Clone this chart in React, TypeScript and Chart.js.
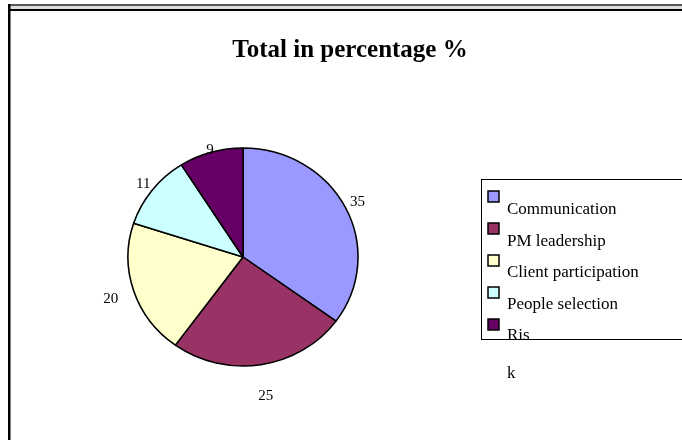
import { useEffect, useRef } from 'react';
import { Chart, registerables, Plugin } from 'chart.js';

Chart.register(...registerables);

const chartTitle = 'Total in percentage %';
const categories = ['Communication', 'PM leadership', 'Client participation', 'People selection', 'Risk'];
const percentages = [35, 25, 20, 11, 9];
const sliceColors = ['#9999FF', '#993366', '#FFFFCC', '#CCFFFF', '#660066'];

// the old spreadsheet legend wrapped "Risk" onto two lines
const legendLines = categories.map((c) => (c === 'Risk' ? ['Ris', 'k'] : [c]));

const SERIF = '"Liberation Serif", "Times New Roman", serif';
const STRETCH_X = 115 / 109; // the pie is a little wider than tall

const pageDecor: Plugin<'pie'> = {
  id: 'pageDecor',
  beforeDatasetsDraw(chart) {
    const { ctx, chartArea } = chart;
    const cx = (chartArea.left + chartArea.right) / 2;
    const cy = (chartArea.top + chartArea.bottom) / 2;
    ctx.save();
    ctx.translate(cx, cy);
    ctx.scale(STRETCH_X, 1);
    ctx.translate(-cx, -cy);
  },
  afterDatasetsDraw(chart) {
    const { ctx } = chart;
    ctx.restore();

    // value labels outside each slice
    const arcs = chart.getDatasetMeta(0).data as any[];
    ctx.save();
    ctx.font = `15px ${SERIF}`;
    ctx.fillStyle = '#000';
    ctx.textAlign = 'center';
    ctx.textBaseline = 'alphabetic';
    arcs.forEach((arc, i) => {
      const { x, y, startAngle, endAngle, outerRadius } = arc.getProps(
        ['x', 'y', 'startAngle', 'endAngle', 'outerRadius'],
        true
      );
      const mid = (startAngle + endAngle) / 2;
      const ux = Math.cos(mid);
      const uy = Math.sin(mid);
      const text = String(percentages[i]);
      const w = ctx.measureText(text).width;
      const h = 10;
      const gap = 11 + 14 * uy;
      const proj = Math.abs(ux) * (w / 2) + Math.abs(uy) * (h / 2);
      const lx = x + ux * (outerRadius * STRETCH_X + gap + proj);
      const ly = y + uy * (outerRadius + gap + proj);
      ctx.fillText(text, lx, ly + h / 2);
    });
    ctx.restore();
  },
  afterDraw(chart) {
    const { ctx } = chart;
    ctx.save();

    // frame
    ctx.fillStyle = '#555';
    ctx.fillRect(8, 4, 674, 2);
    ctx.fillStyle = '#ddd';
    ctx.fillRect(10, 6, 672, 3);
    ctx.fillStyle = '#000';
    ctx.fillRect(8, 9, 674, 2);
    ctx.fillRect(8, 4, 2.5, 436);

    // title
    ctx.font = `bold 25px ${SERIF}`;
    ctx.textAlign = 'center';
    ctx.textBaseline = 'alphabetic';
    ctx.fillText(chartTitle, 350, 57);

    // legend
    ctx.font = `17px ${SERIF}`;
    ctx.textAlign = 'left';
    categories.forEach((_, i) => {
      const top = 191 + i * 32;
      ctx.fillStyle = sliceColors[i];
      ctx.fillRect(488, top, 11, 11);
      ctx.strokeStyle = '#000';
      ctx.lineWidth = 1.5;
      ctx.strokeRect(488, top, 11, 11);
      ctx.fillStyle = '#000';
      legendLines[i].forEach((line, j) => {
        ctx.fillText(line, 507, 214 + i * 31.6 + j * 38);
      });
    });
    ctx.strokeStyle = '#000';
    ctx.lineWidth = 1;
    ctx.strokeRect(481.5, 179.5, 260, 160);

    ctx.restore();
  },
};

export default function App() {
  const canvasRef = useRef<HTMLCanvasElement>(null);
  const chartRef = useRef<Chart<'pie'> | null>(null);

  useEffect(() => {
    if (!canvasRef.current) return;
    if (chartRef.current) chartRef.current.destroy();

    chartRef.current = new Chart(canvasRef.current, {
      type: 'pie',
      data: {
        labels: categories,
        datasets: [
          {
            data: percentages,
            backgroundColor: sliceColors,
            borderColor: '#000',
            borderWidth: 1.5,
            hoverOffset: 0,
            clip: false as any,
          },
        ],
      },
      options: {
        responsive: false,
        animation: false,
        radius: 109,
        layout: {
          padding: { left: 134, right: 330, top: 148, bottom: 74 },
        },
        plugins: {
          legend: { display: false },
          title: { display: false },
          tooltip: { enabled: false },
        },
      },
      plugins: [pageDecor],
    });

    return () => {
      if (chartRef.current) {
        chartRef.current.destroy();
        chartRef.current = null;
      }
    };
  }, []);

  return (
    <div style={{ position: 'fixed', left: 0, top: 0, width: 682, height: 440, background: '#fff' }}>
      <canvas ref={canvasRef} width={682} height={440} style={{ width: 682, height: 440 }}></canvas>
    </div>
  );
}
